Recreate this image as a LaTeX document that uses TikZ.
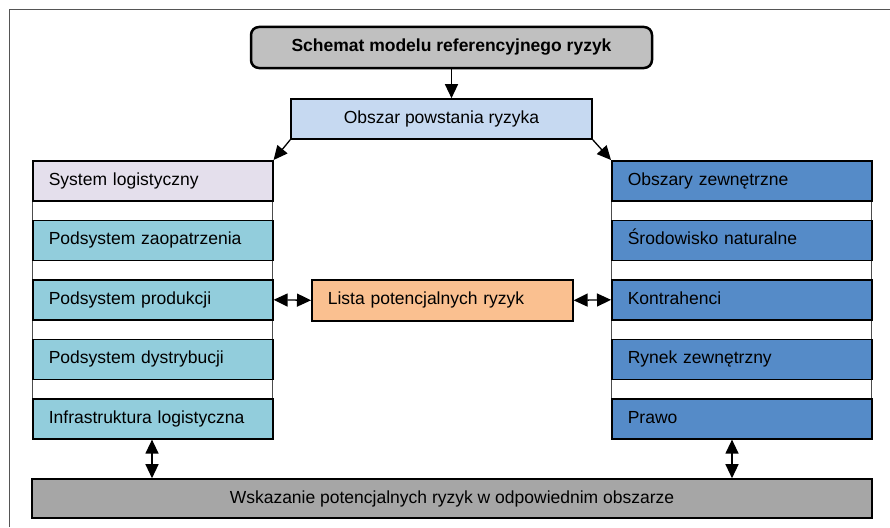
\documentclass[tikz,border=0pt]{standalone}
\usepackage{fontspec}
\setmainfont{Liberation Sans}
\usetikzlibrary{arrows.meta}
\definecolor{titlegray}{HTML}{C0C0C0}
\definecolor{areablue}{HTML}{C6D9F1}
\definecolor{lavender}{HTML}{E4DFEC}
\definecolor{teal}{HTML}{92CDDC}
\definecolor{midblue}{HTML}{558BC8}
\definecolor{peach}{HTML}{FAC090}
\definecolor{botgray}{HTML}{A6A6A6}
\definecolor{framegray}{HTML}{555555}
\tikzset{
  txt/.style={font=\fontsize{17.5}{20}\selectfont, text=black, text height=13pt, text depth=4pt},
  titlebox/.style={txt, font=\fontsize{17.5}{20}\selectfont\bfseries, draw=black, line width=2.5pt, rounded corners=8pt, fill=titlegray, minimum width=401pt, minimum height=41pt, inner sep=0pt},
  cbox/.style={txt, draw=black, line width=1.6pt, inner sep=0pt},
  lbox/.style={txt, draw=black, line width=1.6pt, anchor=north west, minimum height=40pt, inner xsep=16pt, inner ysep=0pt, align=left},
  leftbox/.style={lbox, text width=208pt},
  rightbox/.style={lbox, text width=228pt, fill=midblue},
  bgstack/.style={draw=black!70, line width=1pt, fill=white},
  arr/.style={line width=1.3pt, -{Triangle[length=14pt,width=13pt]}},
  dbl/.style={line width=1.3pt, {Triangle[length=14pt,width=13pt]}-{Triangle[length=14pt,width=13pt]}}
}
\begin{document}
\begin{tikzpicture}[x=1pt,y=-1pt]
\useasboundingbox (0,0) rectangle (890,527);
\draw[framegray, line width=1pt] (9,527) -- (9,10) -- (890,10);

\node[titlebox] (t) at (451.5,47.5) {Schemat modelu referencyjnego ryzyk};
\node[cbox, fill=areablue, minimum width=301pt, minimum height=40pt] (o) at (441.5,119) {Obszar powstania ryzyka};

% left stack
\draw[bgstack] (32,160) rectangle (272,438);
\node[leftbox, fill=lavender] (l1) at (32,160) {System logistyczny};
\node[leftbox, fill=teal] (l2) at (32,219.5) {Podsystem zaopatrzenia};
\node[leftbox, fill=teal] (l3) at (32,279) {Podsystem produkcji};
\node[leftbox, fill=teal] (l4) at (32,338.5) {Podsystem dystrybucji};
\node[leftbox, fill=teal] (l5) at (32,398) {Infrastruktura logistyczna};

% right stack
\draw[bgstack] (611,160) rectangle (871,438);
\node[rightbox] (r1) at (611,160) {Obszary zewnętrzne};
\node[rightbox] (r2) at (611,219.5) {Środowisko naturalne};
\node[rightbox] (r3) at (611,279) {Kontrahenci};
\node[rightbox] (r4) at (611,338.5) {Rynek zewnętrzny};
\node[rightbox] (r5) at (611,398) {Prawo};

\node[lbox, fill=peach, text width=229pt, minimum height=41pt] (li) at (311,279) {Lista potencjalnych ryzyk};

\node[cbox, fill=botgray, minimum width=840pt, minimum height=39pt] (b) at (452,498.5) {Wskazanie potencjalnych ryzyk w odpowiednim obszarze};

% connectors
\draw[arr] (t.south) -- (t.south |- o.north);
\draw[arr] (o.south west) -- (l1.north east);
\draw[arr] (o.south east) -- (r1.north west);
\draw[dbl] (l3.east) -- (li.west);
\draw[dbl] (li.east) -- (r3.west);
\draw[dbl] ([xshift=120pt]l5.south west) -- ([xshift=120pt]l5.south west |- b.north);
\draw[dbl] ([xshift=121pt]r5.south west) -- ([xshift=121pt]r5.south west |- b.north);
\end{tikzpicture}
\end{document}
